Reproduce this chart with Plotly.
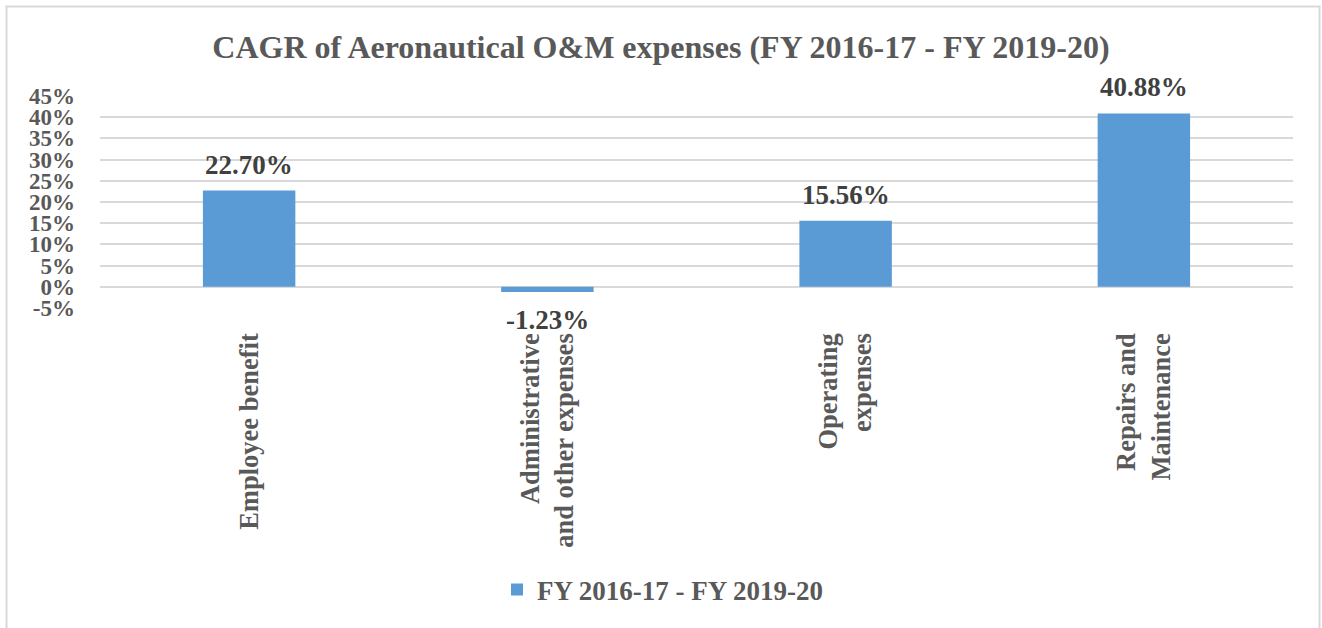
import plotly.graph_objects as go

categories = ["Employee benefit", "Administrative<br>and other expenses", "Operating<br>expenses", "Repairs and<br>Maintenance"]
values = [22.70, -1.23, 15.56, 40.88]
labels = ["22.70%", "-1.23%", "15.56%", "40.88%"]
series_name = "FY 2016-17 - FY 2019-20"
tick_vals = [-5, 0, 5, 10, 15, 20, 25, 30, 35, 40, 45]
tick_text = ["-5%", "0%", "5%", "10%", "15%", "20%", "25%", "30%", "35%", "40%", "45%"]

FONT = "Liberation Serif"
GREY = "#595959"
W, H = 1322, 628
L, R, T, B = 100, 29, 96, 320
pw = W - L - R
ph = H - T - B

def px_x(px):
    return (px - L) / pw

def px_y(py):
    return (H - B - py) / ph

fig = go.Figure()
fig.add_trace(go.Bar(
    x=categories, y=values, name="<b>%s</b>" % series_name,
    marker=dict(color="#5B9BD5", line=dict(width=0)),
    width=0.31,
))

annotations = []
for c, v, t in zip(categories, values, labels):
    annotations.append(dict(
        x=c, y=v, xref="x", yref="y", text="<b>%s</b>" % t, showarrow=False,
        yanchor="middle", xanchor="center", yshift=26 if v >= 0 else -28,
        font=dict(family=FONT, size=27, color="#404040"),
    ))

fig.update_layout(
    width=W, height=H,
    margin=dict(l=L, r=R, t=T, b=B),
    paper_bgcolor="white", plot_bgcolor="white",
    title=dict(text="<b>CAGR of Aeronautical O&M expenses (FY 2016-17 - FY 2019-20)</b>",
               x=0.5, xanchor="center", xref="container", y=1 - 47 / H, yanchor="middle",
               font=dict(family=FONT, size=32, color=GREY)),
    showlegend=True,
    legend=dict(orientation="h", x=px_x(497), xanchor="left", y=px_y(590), yanchor="middle",
                font=dict(family=FONT, size=27, color=GREY), bgcolor="rgba(0,0,0,0)"),
    bargap=0.69,
    annotations=annotations,
    xaxis=dict(tickangle=-90, tickfont=dict(family=FONT, size=26.5, color=GREY),
               tickvals=categories, ticktext=["<b>%s</b>" % c for c in categories],
               showgrid=False, showline=False, ticks="", ticklabelstandoff=19),
    yaxis=dict(range=[-5, 45], tickvals=tick_vals, ticktext=["<b>%s</b>" % t for t in tick_text],
               tickfont=dict(family=FONT, size=23, color=GREY),
               showgrid=True, gridcolor="#D9D9D9", gridwidth=1.5,
               zeroline=False, showline=False, ticks="", ticklabelstandoff=24),
    shapes=[dict(type="rect", xref="paper", yref="paper",
                 x0=px_x(6.5), x1=px_x(1319.5), y0=px_y(640), y1=px_y(6.5),
                 line=dict(color="#D9D9D9", width=2), fillcolor="rgba(0,0,0,0)", layer="below")],
)

fig.write_html("out.html", config={"displayModeBar": False},
               post_script="document.body.style.margin='0';")
